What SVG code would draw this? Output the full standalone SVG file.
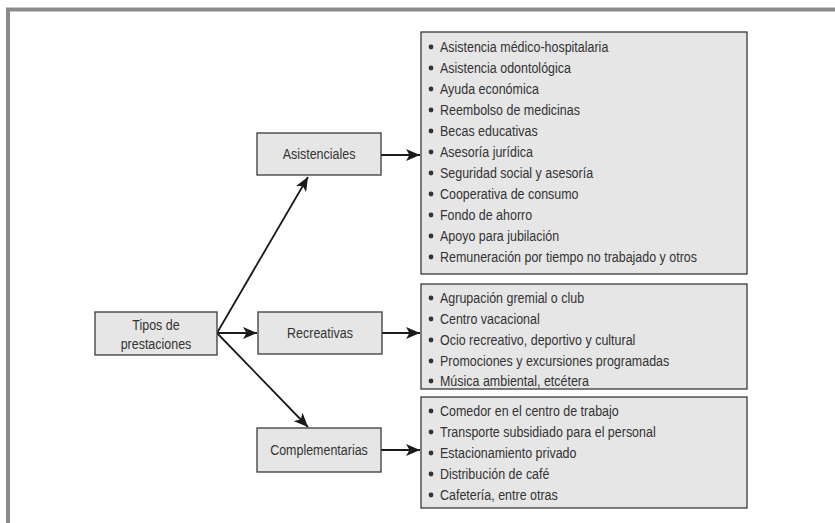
<svg xmlns="http://www.w3.org/2000/svg" width="835" height="523" viewBox="0 0 835 523">
<style>
.bx{fill:#e6e6e6;stroke:#3a3a3a;stroke-width:1.3}
.t{font-family:"Liberation Sans",Arial,sans-serif;font-size:14.5px;fill:#333}
.c{text-anchor:middle}
.ln{stroke:#1a1a1a;stroke-width:1.8;fill:none}
.b{fill:#333}
</style>
<defs>
<marker id="ah" viewBox="0 0 14 12" refX="14" refY="6" markerWidth="14" markerHeight="12" markerUnits="userSpaceOnUse" orient="auto">
<path d="M0,0 L14,6 L0,12 L3.5,6 Z" fill="#1a1a1a"/>
</marker>
</defs>
<rect width="835" height="523" fill="#fff"/>
<path d="M8,523 V9.5 H835" fill="none" stroke="#8a8a8a" stroke-width="4"/>
<g id="connectors">
<line class="ln" x1="217" y1="333" x2="257" y2="333" marker-end="url(#ah)"/>
<line class="ln" x1="217" y1="333" x2="308" y2="177" marker-end="url(#ah)"/>
<line class="ln" x1="217" y1="333" x2="308" y2="427" marker-end="url(#ah)"/>
<line class="ln" x1="381" y1="155" x2="420" y2="155" marker-end="url(#ah)"/>
<line class="ln" x1="382" y1="333" x2="420" y2="333" marker-end="url(#ah)"/>
<line class="ln" x1="381" y1="450" x2="420" y2="450" marker-end="url(#ah)"/>
</g>
<g id="tipos">
<rect class="bx" x="95" y="312" width="122" height="43"/>
<g transform="translate(156,0) scale(0.86,1) translate(-156,0)">
<text class="t c" x="156" y="330">Tipos de</text>
<text class="t c" x="156" y="349">prestaciones</text>
</g>
</g>
<g id="asistenciales">
<rect class="bx" x="257" y="133" width="124" height="42"/>
<text class="t c" x="319" y="159" transform="translate(319,0) scale(0.86,1) translate(-319,0)">Asistenciales</text>
</g>
<g id="recreativas">
<rect class="bx" x="258" y="312" width="124" height="42"/>
<text class="t c" x="320" y="338" transform="translate(320,0) scale(0.86,1) translate(-320,0)">Recreativas</text>
</g>
<g id="complementarias">
<rect class="bx" x="257" y="428" width="124" height="44"/>
<text class="t c" x="319" y="455" transform="translate(319,0) scale(0.86,1) translate(-319,0)">Complementarias</text>
</g>
<g id="lista-asistenciales">
<rect class="bx" x="421" y="32" width="326" height="242"/>
<g class="b">
<circle cx="431" cy="47" r="2.4"/><circle cx="431" cy="68" r="2.4"/><circle cx="431" cy="89" r="2.4"/><circle cx="431" cy="110" r="2.4"/><circle cx="431" cy="131" r="2.4"/><circle cx="431" cy="152" r="2.4"/><circle cx="431" cy="173" r="2.4"/><circle cx="431" cy="194" r="2.4"/><circle cx="431" cy="215" r="2.4"/><circle cx="431" cy="236" r="2.4"/><circle cx="431" cy="257" r="2.4"/>
</g>
<g transform="translate(440,0) scale(0.86,1) translate(-440,0)">
<text class="t" x="440" y="52">Asistencia médico-hospitalaria</text>
<text class="t" x="440" y="73">Asistencia odontológica</text>
<text class="t" x="440" y="94">Ayuda económica</text>
<text class="t" x="440" y="115">Reembolso de medicinas</text>
<text class="t" x="440" y="136">Becas educativas</text>
<text class="t" x="440" y="157">Asesoría jurídica</text>
<text class="t" x="440" y="178">Seguridad social y asesoría</text>
<text class="t" x="440" y="199">Cooperativa de consumo</text>
<text class="t" x="440" y="220">Fondo de ahorro</text>
<text class="t" x="440" y="241">Apoyo para jubilación</text>
<text class="t" x="440" y="262">Remuneración por tiempo no trabajado y otros</text>
</g>
</g>
<g id="lista-recreativas">
<rect class="bx" x="421" y="284" width="326" height="105"/>
<g class="b">
<circle cx="431" cy="298" r="2.4"/><circle cx="431" cy="319" r="2.4"/><circle cx="431" cy="340" r="2.4"/><circle cx="431" cy="361" r="2.4"/><circle cx="431" cy="381" r="2.4"/>
</g>
<g transform="translate(440,0) scale(0.86,1) translate(-440,0)">
<text class="t" x="440" y="303">Agrupación gremial o club</text>
<text class="t" x="440" y="324">Centro vacacional</text>
<text class="t" x="440" y="345">Ocio recreativo, deportivo y cultural</text>
<text class="t" x="440" y="366">Promociones y excursiones programadas</text>
<text class="t" x="440" y="386">Música ambiental, etcétera</text>
</g>
</g>
<g id="lista-complementarias">
<rect class="bx" x="421" y="397" width="326" height="111"/>
<g class="b">
<circle cx="431" cy="411" r="2.4"/><circle cx="431" cy="432" r="2.4"/><circle cx="431" cy="453" r="2.4"/><circle cx="431" cy="474" r="2.4"/><circle cx="431" cy="495" r="2.4"/>
</g>
<g transform="translate(440,0) scale(0.86,1) translate(-440,0)">
<text class="t" x="440" y="416">Comedor en el centro de trabajo</text>
<text class="t" x="440" y="437">Transporte subsidiado para el personal</text>
<text class="t" x="440" y="458">Estacionamiento privado</text>
<text class="t" x="440" y="479">Distribución de café</text>
<text class="t" x="440" y="500">Cafetería, entre otras</text>
</g>
</g>
</svg>
